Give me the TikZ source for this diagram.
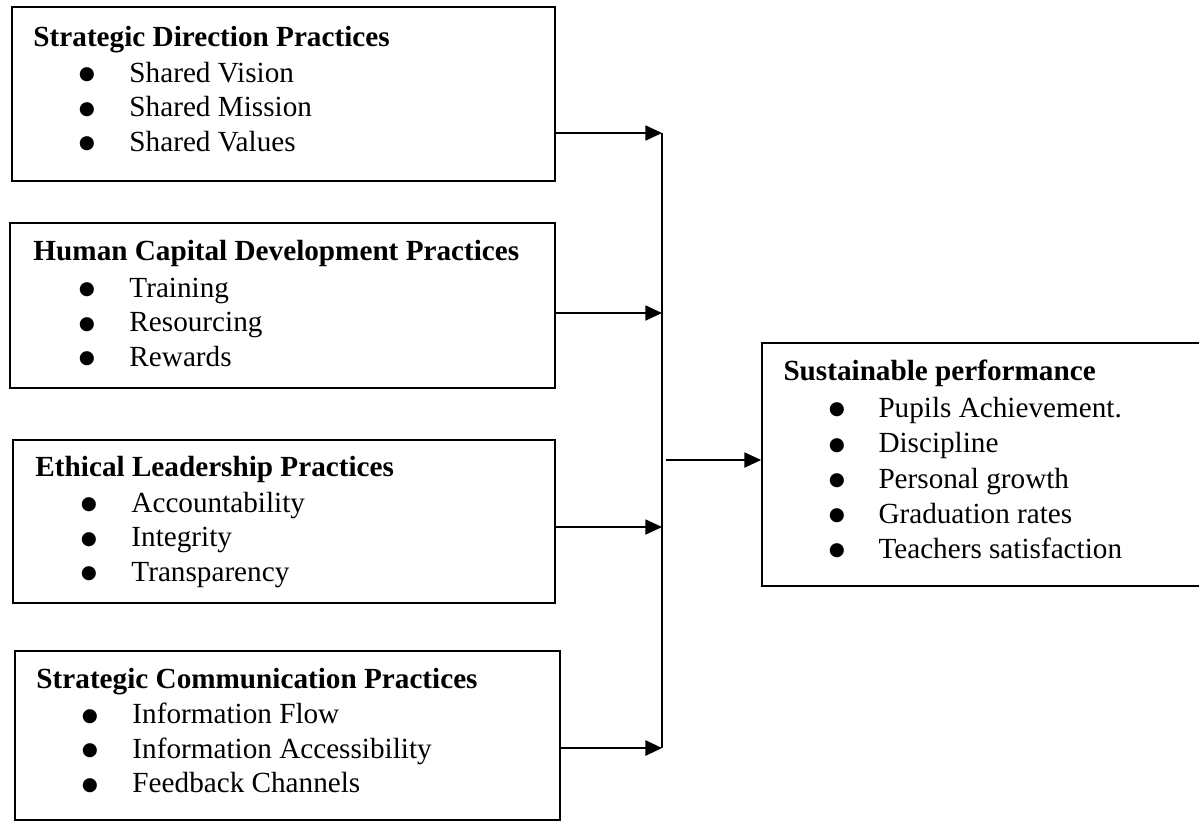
\documentclass[tikz,border=0pt]{standalone}
\usepackage{fontspec}
\setmainfont{Liberation Serif}
\newfontfamily\symfont{DejaVu Sans}
\usetikzlibrary{arrows.meta,fit}

\tikzset{
  box/.style={draw, line width=0.8pt, inner sep=0pt},
  head/.style={anchor=base west, inner sep=0pt, font=\fontsize{12}{14}\selectfont\bfseries},
  item/.style={anchor=base west, inner sep=0pt, font=\fontsize{12}{14}\selectfont},
  dot/.style={anchor=center, inner sep=0pt, font=\symfont\fontsize{7.6}{8}\selectfont},
  link/.style={-{Triangle[length=6.8pt,width=6.2pt]}, line width=0.6pt},
  trunk/.style={line width=0.6pt}
}

% a heading and three bullet lines, baselines given in picture units
\newcommand{\practice}[8]{%
  \node[head] (#1h) at (#2,#3) {#4};
  \node[dot]  (#1d1) at (#2+54,#5-7) {●};
  \node[item] (#1i1) at (#2+96,#5) {#6};
  \node[dot]  (#1d2) at (#2+54,#5+34.5-7) {●};
  \node[item] (#1i2) at (#2+96,#5+34.5) {#7};
  \node[dot]  (#1d3) at (#2+54,#5+69-7) {●};
  \node[item] (#1i3) at (#2+96,#5+69) {#8};
}

\begin{document}
\begin{tikzpicture}[x=0.411pt, y=-0.411pt]
  \useasboundingbox (0,0) rectangle (1199,821);

  % left column of practice boxes
  \node[box, fit={(12,7) (555,181)}] (b1) {};
  \node[box, fit={(10,223) (555,388)}] (b2) {};
  \node[box, fit={(13,440) (555,603)}] (b3) {};
  \node[box, fit={(15,651) (560,820)}] (b4) {};

  \practice{p1}{33}{46.5}{Strategic Direction Practices}{82}{Shared Vision}{Shared Mission}{Shared Values}
  \practice{p2}{33}{260.5}{Human Capital Development Practices}{297}{Training}{Resourcing}{Rewards}
  \practice{p3}{35}{476.5}{Ethical Leadership Practices}{512}{Accountability}{Integrity}{Transparency}
  \practice{p4}{36}{688.5}{Strategic Communication Practices}{723.5}{Information Flow}{Information Accessibility}{Feedback Channels}

  % outcome box
  \node[box, fit={(762,343) (1201,586)}] (b5) {};
  \node[head] (oh) at (783,380.5) {Sustainable performance};
  \node[dot]  (od1) at (837,410) {●};
  \node[item] (oi1) at (878,417) {Pupils Achievement.};
  \node[dot]  (od2) at (837,445.5) {●};
  \node[item] (oi2) at (878,452.5) {Discipline};
  \node[dot]  (od3) at (837,481) {●};
  \node[item] (oi3) at (878,488) {Personal growth};
  \node[dot]  (od4) at (837,516) {●};
  \node[item] (oi4) at (878,523) {Graduation rates};
  \node[dot]  (od5) at (837,551) {●};
  \node[item] (oi5) at (878,558) {Teachers satisfaction};

  % collector line and arrows
  \coordinate (j1) at (662,133);
  \coordinate (j2) at (662,313);
  \coordinate (j3) at (662,527);
  \coordinate (j4) at (662,748);
  \coordinate (m)  at (666,460);

  \draw[trunk] (j1) -- (j4);
  \draw[link] (b1.east |- j1) -- (j1);
  \draw[link] (b2.east |- j2) -- (j2);
  \draw[link] (b3.east |- j3) -- (j3);
  \draw[link, line width=1pt] (b4.east |- j4) -- (j4);
  \draw[link] (m) -- (b5.west |- m);
\end{tikzpicture}
\end{document}
